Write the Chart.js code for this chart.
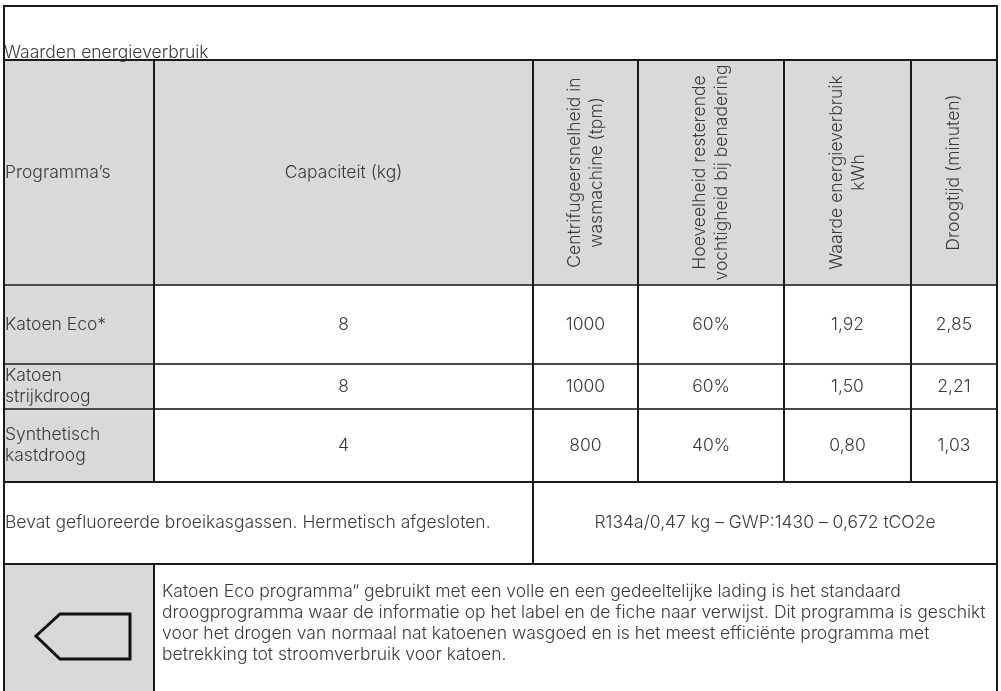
<!DOCTYPE html>
<html>
<head>
<meta charset="utf-8">
<script src="https://cdn.jsdelivr.net/npm/chart.js@4"></script>
<style>
  html, body { margin: 0; padding: 0; background: #fff; }
  canvas { display: block; }
</style>
</head>
<body>
<canvas id="tbl" width="1001" height="691"></canvas>
<script>
// table content
const title = 'Waarden energieverbruik';
const headers = [
  ['Programma\u2019s'],
  ['Capaciteit (kg)'],
  ['Centrifugeersnelheid in', 'wasmachine (tpm)'],
  ['Hoeveelheid resterende', 'vochtigheid bij benadering'],
  ['Waarde energieverbruik', 'kWh'],
  ['Droogtijd (minuten)']
];
const programs = [['Katoen Eco*'], ['Katoen', 'strijkdroog'], ['Synthetisch', 'kastdroog']];
const capacityKg = [8, 8, 4];
const spinRpm = [1000, 1000, 800];
const moisturePct = [60, 60, 40];
const energyKwh = [1.92, 1.50, 0.80];
const dryTime = [2.85, 2.21, 1.03];
const gasNote = 'Bevat gefluoreerde broeikasgassen. Hermetisch afgesloten.';
const gasValue = 'R134a/0,47 kg \u2013 GWP:1430 \u2013 0,672 tCO2e';
const ecoNote = [
  'Katoen Eco programma\u201c gebruikt met een volle en een gedeeltelijke lading is het standaard',
  'droogprogramma waar de informatie op het label en de fiche naar verwijst. Dit programma is geschikt',
  'voor het drogen van normaal nat katoenen wasgoed en is het meest effici\u00ebnte programma met',
  'betrekking tot stroomverbruik voor katoen.'
];

// layout (in scale units)
const colEdges = [4, 154, 533, 638, 784, 911, 997];
const rowEdges = [6, 60, 285, 364, 409, 482, 564, 691];

const comma = (v, d) => v.toFixed(d).replace('.', ',');
const rows = programs.map((p, i) => [
  p,
  [String(capacityKg[i])],
  [String(spinRpm[i])],
  [moisturePct[i] + '%'],
  [comma(energyKwh[i], 2)],
  [comma(dryTime[i], 2)]
]);

const FONT = '300 17.5px Inter, "Liberation Sans", Arial, sans-serif';
const INK = '#3a3a3a';
const GRAY = '#d9d9d9';

const tablePlugin = {
  id: 'tablePlugin',
  afterDraw(chart) {
    const ctx = chart.ctx;
    const sx = v => chart.scales.x.getPixelForValue(v);
    const sy = v => chart.scales.y.getPixelForValue(v);
    const X = colEdges.map(sx), Y = rowEdges.map(sy);
    const L = X[0], R = X[X.length - 1];

    const fill = (x0, y0, x1, y1, c) => { ctx.fillStyle = c; ctx.fillRect(x0, y0, x1 - x0, y1 - y0); };
    const lines = (arr, x, y, align, lh) => {
      ctx.textAlign = align;
      arr.forEach((t, k) => ctx.fillText(t, x, y + (k - (arr.length - 1) / 2) * lh));
    };

    ctx.save();
    fill(0, 0, chart.width, chart.height, '#fff');
    // shading
    fill(L, Y[1], R, Y[2], GRAY);
    fill(L, Y[2], X[1], Y[5], GRAY);
    fill(L, Y[6], X[1], Y[7], GRAY);

    ctx.font = FONT;
    ctx.fillStyle = INK;
    ctx.textBaseline = 'alphabetic';
    ctx.textAlign = 'left';
    ctx.fillText(title, L, Y[1] - 2);

    ctx.textBaseline = 'middle';
    // header row
    const hy = (Y[1] + Y[2]) / 2;
    lines(headers[0], L + 1, hy, 'left', 20);
    lines(headers[1], (X[1] + X[2]) / 2, hy, 'center', 20);
    for (let c = 2; c < headers.length; c++) {
      ctx.save();
      ctx.translate((X[c] + X[c + 1]) / 2, hy);
      ctx.rotate(-Math.PI / 2);
      lines(headers[c], 0, 0, 'center', 22);
      ctx.restore();
    }
    // data rows
    rows.forEach((r, i) => {
      const cy = (Y[i + 2] + Y[i + 3]) / 2;
      lines(r[0], L + 1, cy, 'left', 21);
      for (let c = 1; c < r.length; c++) lines(r[c], (X[c] + X[c + 1]) / 2, cy, 'center', 21);
    });
    // gas row
    const gy = (Y[5] + Y[6]) / 2;
    lines([gasNote], L + 1, gy, 'left', 21);
    lines([gasValue], (X[2] + R) / 2, gy, 'center', 21);
    // eco note
    lines(ecoNote, X[1] + 8, sy(623), 'left', 21);

    // arrow icon
    ctx.beginPath();
    [[36, 636], [60, 614], [130, 614], [130, 659], [60, 659]].forEach(([a, b], k) => {
      k ? ctx.lineTo(sx(a), sy(b)) : ctx.moveTo(sx(a), sy(b));
    });
    ctx.closePath();
    ctx.lineWidth = 3;
    ctx.strokeStyle = '#111';
    ctx.lineJoin = 'miter';
    ctx.stroke();

    // grid lines
    const seg = (x0, y0, x1, y1, c) => {
      ctx.beginPath(); ctx.moveTo(x0, y0); ctx.lineTo(x1, y1);
      ctx.strokeStyle = c; ctx.lineWidth = 2; ctx.stroke();
    };
    [2, 3, 4].forEach(k => seg(L, Y[k], R, Y[k], '#4a4a4a'));
    [0, 1, 5, 6].forEach(k => seg(L, Y[k], R, Y[k], '#1a1a1a'));
    seg(L, Y[0] - 1, L, Y[7], '#1a1a1a');
    seg(R, Y[0] - 1, R, Y[7], '#1a1a1a');
    seg(X[1], Y[1], X[1], Y[5], '#1a1a1a');
    seg(X[1], Y[6], X[1], Y[7], '#1a1a1a');
    seg(X[2], Y[1], X[2], Y[6], '#1a1a1a');
    [3, 4, 5].forEach(k => seg(X[k], Y[1], X[k], Y[5], '#1a1a1a'));
    ctx.restore();
  }
};

new Chart(document.getElementById('tbl'), {
  type: 'scatter',
  data: { datasets: [{ data: [], pointRadius: 0 }] },
  options: {
    responsive: false,
    animation: false,
    layout: { padding: 0 },
    plugins: { legend: { display: false }, tooltip: { enabled: false } },
    scales: {
      x: { type: 'linear', min: 0, max: 1001, display: false },
      y: { type: 'linear', min: 0, max: 691, reverse: true, display: false }
    }
  },
  plugins: [tablePlugin]
});
</script>
</body>
</html>
